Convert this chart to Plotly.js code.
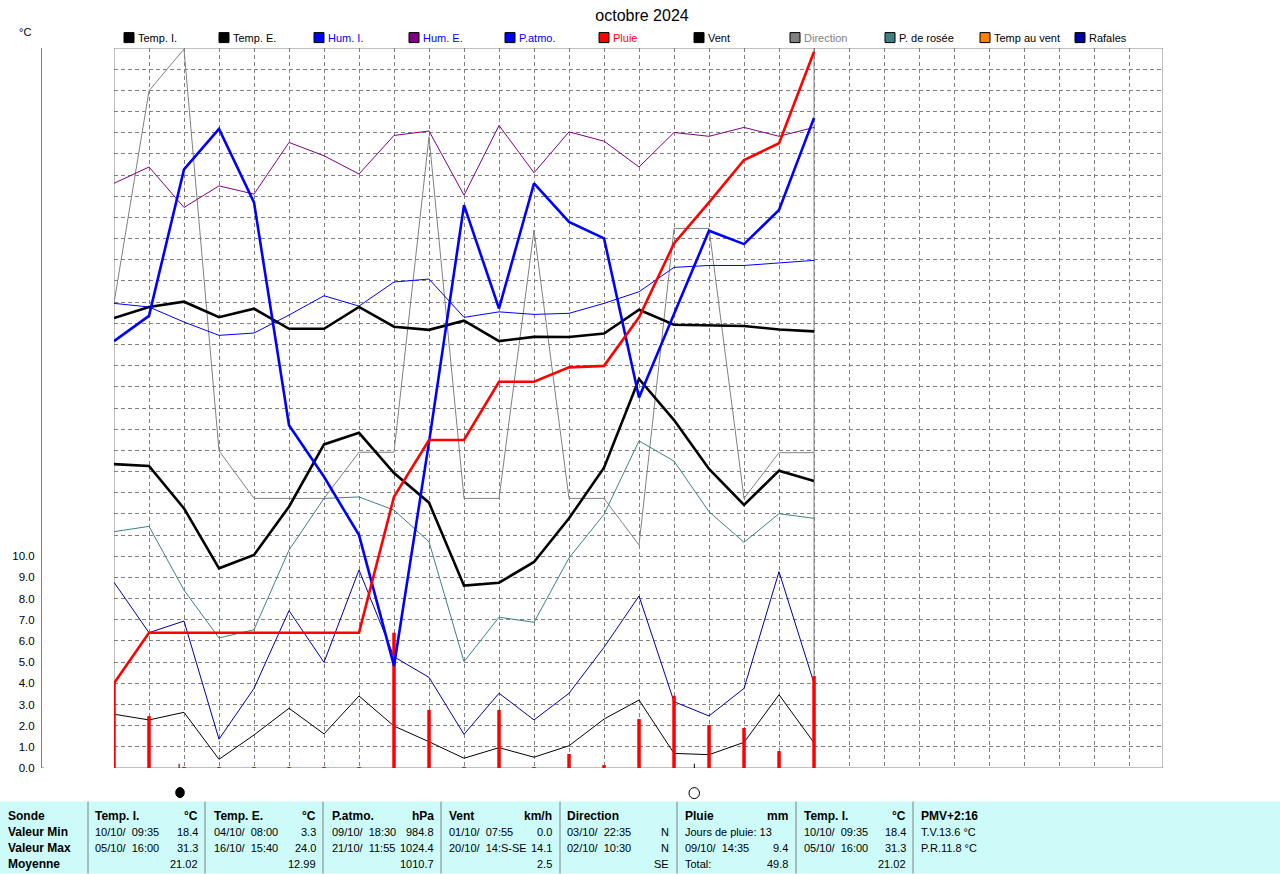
<!DOCTYPE html>
<html>
<head>
<meta charset="utf-8">
<script src="https://cdn.plot.ly/plotly-3.0.1.min.js"></script>
<style>html,body{margin:0;padding:0;background:#fff}#c{width:1280px;height:874px}</style>
</head>
<body>
<div id="c"></div>
<script>
var days = [0,1,2,3,4,5,6,7,8,9,10,11,12,13,14,15,16,17,18,19,20];
var tempI = [21.25,21.77,22.02,21.29,21.69,20.74,20.74,21.77,20.84,20.69,21.12,20.16,20.36,20.35,20.52,21.64,20.93,20.89,20.87,20.71,20.62];
var tempE = [14.35,14.26,12.26,9.43,10.06,12.34,15.28,15.83,13.93,12.53,8.61,8.75,9.73,11.79,14.18,18.37,16.43,14.12,12.42,14.04,13.55];
var humI = [21.94,21.77,21.06,20.43,20.54,21.39,22.30,21.81,22.95,23.09,21.28,21.54,21.42,21.47,21.94,22.49,23.64,23.73,23.73,23.86,23.97];
var humE = [27.61,28.38,26.47,27.49,27.10,29.54,28.91,28.05,29.87,30.08,27.05,30.34,28.11,30.04,29.60,28.38,30.01,29.83,30.25,29.83,30.25];
var patmo = [20.16,21.35,28.27,30.18,26.71,16.19,13.75,11.00,4.82,15.39,26.58,21.70,27.61,25.79,25.01,17.50,21.44,25.37,24.74,26.35,30.70];
var pluie = [4.00,6.39,6.39,6.39,6.39,6.39,6.39,6.39,12.81,15.49,15.49,18.24,18.24,18.92,18.99,21.28,24.77,26.71,28.71,29.50,33.82];
var pluieJour = [4.00,2.45,0.05,0.05,0.05,0.05,0.05,0.05,6.39,2.74,0.05,2.74,0.05,0.66,0.14,2.31,3.41,2.03,1.89,0.80,4.34];
var vent = [2.54,2.27,2.63,0.41,1.56,2.82,1.61,3.40,1.98,1.24,0.46,0.96,0.51,1.05,2.31,3.21,0.69,0.63,1.21,3.46,1.19];
var direction = [21.95,31.98,33.95,14.98,12.73,12.73,12.73,14.91,14.91,29.81,12.73,12.73,25.40,12.73,12.73,10.53,25.48,25.48,12.73,14.89,14.89];
var rosee = [11.16,11.41,8.40,6.14,6.53,10.29,12.73,12.80,12.18,10.68,5.02,7.12,6.88,9.92,11.98,15.45,14.49,12.10,10.66,12.01,11.79];
var rafales = [8.77,6.39,6.94,1.36,3.76,7.43,4.99,9.35,5.25,4.28,1.59,3.53,2.27,3.53,5.70,8.12,3.13,2.46,3.76,9.27,4.00];

var legendNames = ["Temp. I.","Temp. E.","Hum. I.","Hum. E.","P.atmo.","Pluie","Vent","Direction","P. de rosée","Temp au vent","Rafales"];
var legendSwatches = ["#000000","#000000","#0000FF","#800080","#0000FF","#FF0000","#000000","#808080","#408080","#FF8000","#0000A0"];
var legendTexts = ["#000000","#000000","#0000FF","#0000FF","#0000FF","#FF0000","#000000","#808080","#000000","#000000","#000000"];
var legendLeft = [124,219,314,409,505,599,694,790,885,980,1075];

var xTicks = [];
for (var d = 0; d <= 29; d++) xTicks.push(d);
var yTicks = [];
var yLabels = [];
for (var t = 0; t <= 34; t++) { yTicks.push(t); yLabels.push(t <= 10 ? t.toFixed(1) : ""); }

var tableHeads = ["Sonde","Temp. I.","Temp. E.","P.atmo.","Vent","Direction","Pluie","Temp. I.","PMV+2:16"];
var tableUnits = ["","°C","°C","hPa","km/h","","mm","°C",""];
var rowMin = ["Valeur Min","10/10/\u00A0\u00A009:35","04/10/\u00A0\u00A008:00","09/10/\u00A0\u00A018:30","01/10/\u00A0\u00A007:55","03/10/\u00A0\u00A022:35","Jours de pluie: 13","10/10/\u00A0\u00A009:35","T.V.13.6 °C"];
var rowMax = ["Valeur Max","05/10/\u00A0\u00A016:00","16/10/\u00A0\u00A015:40","21/10/\u00A0\u00A011:55","20/10/\u00A0\u00A014:S-SE","02/10/\u00A0\u00A010:30","09/10/\u00A0\u00A014:35","05/10/\u00A0\u00A016:00","P.R.11.8 °C"];
var rowAvg = ["Moyenne","","","","","","Total:","",""];
var valMin = ["","18.4","3.3","984.8","0.0","N","","18.4",""];
var valMax = ["","31.3","24.0","1024.4","14.1","N","9.4","31.3",""];
var valAvg = ["","21.02","12.99","1010.7","2.5","SE","49.8","21.02",""];
var colLeft = [7,94,213,331,448,566,684,803,920];
var colRight = [0,199,317,435,553,670,789,907,0];
var colSep = [88,205,323,441,560,677,796,913];
var rowY = [816,832,848,864];

var L = 41, R = 1163, T = 48.4, B = 768.4;
function px(x){ return (x - L) / (R - L); }
function py(y){ return (B - y) / (B - T); }

function thin(y, color, name){ return {x:days, y:y, type:"scatter", mode:"lines", name:name, line:{color:color, width:1}}; }
function thick(y, color, name){ return {x:days, y:y, type:"scatter", mode:"lines", name:name, line:{color:color, width:2.6}}; }

var rainX = [], rainY = [];
days.forEach(function(d,i){ rainX.push(d,d,null); rainY.push(0,pluieJour[i],null); });

var data = [
  thin(direction,"#808080","Direction"),
  thin(rosee,"#408080","P. de rosée"),
  thin(rafales,"#0000A0","Rafales"),
  thin(humE,"#800080","Hum. E."),
  thin(humI,"#0000FF","Hum. I."),
  thin(vent,"#000000","Vent"),
  {x:rainX, y:rainY, type:"scatter", mode:"lines", name:"Pluie jour", line:{color:"#FF0000", width:3.5}},
  thick(tempI,"#000000","Temp. I."),
  thick(tempE,"#000000","Temp. E."),
  thick(patmo,"#0000FF","P.atmo."),
  thick(pluie,"#FF0000","Pluie")
];

var RANGE_X = 29.97;
var shapes = [
  {type:"rect", xref:"x", yref:"y", x0:0, x1:RANGE_X, y0:0, y1:34, layer:"below", line:{color:"#808080", width:1}},
  {type:"line", xref:"x", yref:"y", x0:20, x1:20, y0:0, y1:34, layer:"below", line:{color:"#808080", width:1}},
  {type:"line", xref:"paper", yref:"y", x0:0, x1:px(44), y0:0, y1:0, line:{color:"#808080", width:1}},
  {type:"line", xref:"x", yref:"y", x0:1.86, x1:1.86, y0:0, y1:0.2, line:{color:"#000000", width:1}},
  {type:"line", xref:"x", yref:"y", x0:16.58, x1:16.58, y0:0, y1:0.2, line:{color:"#000000", width:1}},
  {type:"circle", xref:"paper", yref:"paper", x0:px(175.7), x1:px(184.3), y0:py(798), y1:py(788), line:{color:"#000000", width:1}, fillcolor:"#000000"},
  {type:"circle", xref:"paper", yref:"paper", x0:px(689), x1:px(699.5), y0:py(799), y1:py(788), line:{color:"#000000", width:1}, fillcolor:"#FFFFFF"},
  {type:"rect", xref:"paper", yref:"paper", x0:px(0), x1:px(1280), y0:py(802), y1:py(874), layer:"below", line:{width:0}, fillcolor:"#CCFBF9"}
];
colSep.forEach(function(x){
  shapes.push({type:"line", xref:"paper", yref:"paper", x0:px(x), x1:px(x), y0:py(802), y1:py(874), line:{color:"#808080", width:1}});
});
legendLeft.forEach(function(x,i){
  shapes.push({type:"rect", xref:"paper", yref:"paper", x0:px(x), x1:px(x+10), y0:py(43), y1:py(33), line:{color:"#000000", width:1}, fillcolor:legendSwatches[i]});
});

var FONT = "Liberation Sans, Arial, sans-serif";
function note(x, y, text, anchor, size, color, bold){
  return {xref:"paper", yref:"paper", x:px(x), y:py(y), text: bold ? "<b>"+text+"</b>" : text,
    showarrow:false, xanchor:anchor, yanchor:"middle", align:anchor, borderpad:0,
    font:{family:FONT, size:size, color:color}};
}
var annotations = [note(18,32,"°C","left",11,"#000000",false)];
legendNames.forEach(function(n,i){ annotations.push(note(legendLeft[i]+13,38,n,"left",11,legendTexts[i],false)); });
tableHeads.forEach(function(h,i){
  annotations.push(note(colLeft[i],rowY[0],h,"left",12,"#000000",true));
  if (tableUnits[i]) annotations.push(note(colRight[i],rowY[0],tableUnits[i],"right",12,"#000000",true));
  [rowMin,rowMax,rowAvg].forEach(function(r,k){
    if (!r[i]) return;
    annotations.push(note(colLeft[i],rowY[k+1],r[i],"left",i===0?12:11,"#000000",i===0));
  });
  [valMin,valMax,valAvg].forEach(function(r,k){
    if (r[i]) annotations.push(note(colRight[i],rowY[k+1],r[i],"right",11,"#000000",false));
  });
});

var grid = {showgrid:true, gridcolor:"#808080", gridwidth:1, griddash:"4px,3px", zeroline:false};
var layout = {
  width:1280, height:874, autosize:false, showlegend:false,
  paper_bgcolor:"#FFFFFF", plot_bgcolor:"#FFFFFF",
  margin:{l:L, r:1280-R, t:T, b:874-B, pad:0},
  title:{text:"octobre 2024", x:642/1280, xanchor:"center", xref:"container", yref:"container", y:1-15/874, yanchor:"middle",
         font:{family:FONT, size:16, color:"#000000"}},
  xaxis:Object.assign({domain:[(114-L)/(R-L),1], range:[0,RANGE_X], tickmode:"array", tickvals:xTicks, showticklabels:false, ticks:"", showline:false}, grid),
  yaxis:Object.assign({anchor:"free", position:0, range:[0,34], tickmode:"array", tickvals:yTicks, ticktext:yLabels, ticks:"",
    showline:true, linecolor:"#808080", linewidth:1, ticklabelstandoff:4,
    tickfont:{family:FONT, size:11.5, color:"#000000"}}, grid),
  shapes:shapes,
  annotations:annotations
};
Plotly.newPlot("c", data, layout, {displayModeBar:false, staticPlot:true});
</script>
</body>
</html>
